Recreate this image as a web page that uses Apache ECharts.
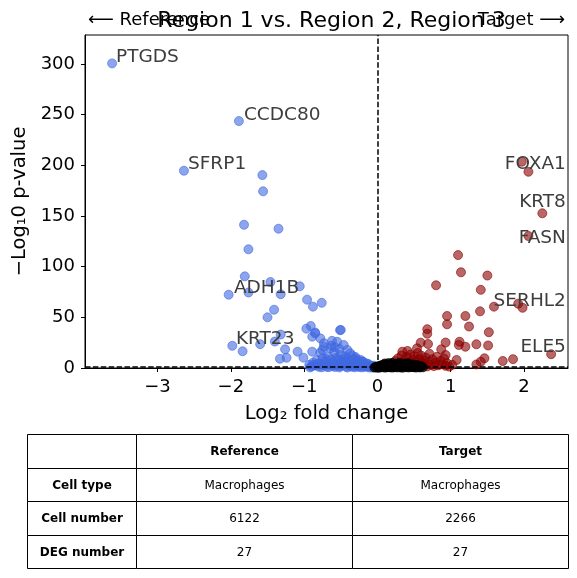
<!DOCTYPE html>
<html><head><meta charset="utf-8">
<script src="https://cdn.jsdelivr.net/npm/echarts@6/dist/echarts.min.js"></script>
<style>html,body{margin:0;padding:0;background:#fff}#c{width:577px;height:578px}</style>
</head><body><div id="c"></div>
<script>
const chartTitle = 'Region 1 vs. Region 2, Region 3';
const leftTag = '⟵ Reference';
const rightTag = 'Target ⟶';
const xTicks = [-3, -2, -1, 0, 1, 2];
const yTicks = [0, 50, 100, 150, 200, 250, 300];
const xName = 'Log₂ fold change';
const yName = '−Log₁0 p-value';
const pThreshold = 1.3;
const fcThreshold = 0;

// down-regulated (blue)
const downPoints = [
 [-3.62,300.5],[-1.89,243.6],[-2.64,194.6],[-1.57,190.3],[-1.56,174.3],[-1.82,141.3],[-1.35,137.4],
 [-1.76,117.1],[-1.81,90.4],[-1.46,84.8],[-1.06,80.6],[-2.03,72.3],[-1.76,74.5],[-1.32,72.8],
 [-0.96,67.4],[-0.88,60.5],[-0.76,64.3],[-1.41,57.5],[-1.50,50.0],[-1.98,21.9],[-1.84,16.5],
 [-1.60,23.5],[-1.40,26.1],[-1.32,33.0],[-1.26,18.4],[-1.33,9.1],[-1.24,10.1],[-1.09,16.1],
 [-1.01,10.2],[-0.91,41.4],[-0.97,38.8],[-0.85,35.0],[-0.51,37.3],[-0.50,37.6],[-0.89,30.9],
 [-0.78,29.3],[-0.73,24.4],[-0.62,26.8],[-0.55,25.9],[-0.46,22.7],[-0.75,17.8],[-0.64,19.4],
 [-0.41,17.8],[-0.37,14.5],[-0.89,16.1],[-0.78,15.1],[-0.73,21.0],[-0.85,34.2],[-0.59,15.8],
 [-0.50,12.8],[-0.30,10.8],[-0.23,7.9],[-0.63,22.0],[-0.58,20.5],[-0.52,19.0],[-0.44,11.5],
 [-0.40,9.0],[-0.34,12.0],[-0.28,8.5],[-0.20,6.5],[-0.15,4.5],
 [-0.93,3.1],[-0.90,1.5],[-0.88,5.2],[-0.85,2.4],[-0.83,7.8],[-0.80,1.2],[-0.78,4.6],[-0.75,9.5],
 [-0.74,2.8],[-0.71,6.3],[-0.69,1.1],[-0.67,11.2],[-0.65,3.9],[-0.63,8.4],[-0.61,2.2],[-0.60,5.7],
 [-0.58,1.0],[-0.56,10.3],[-0.55,3.5],[-0.53,7.1],[-0.51,1.8],[-0.50,4.9],[-0.48,2.7],[-0.46,9.2],
 [-0.45,6.0],[-0.43,1.4],[-0.42,3.8],[-0.40,7.6],[-0.38,2.5],[-0.37,5.3],[-0.35,1.2],[-0.33,4.2],
 [-0.32,8.9],[-0.30,2.0],[-0.28,6.1],[-0.27,3.3],[-0.25,1.0],[-0.23,4.7],[-0.22,2.6],[-0.20,5.8],
 [-0.18,1.6],[-0.17,3.4],[-0.15,2.2],[-0.13,4.1],[-0.12,1.3],[-0.10,2.8],[-0.08,1.8],[-0.06,1.1],
 [-0.05,2.3],[-0.03,0.8],
 [-0.92,0.6],[-0.87,2.9],[-0.82,4.1],[-0.76,0.7],[-0.72,3.6],[-0.66,0.9],[-0.62,4.4],[-0.57,2.6],
 [-0.52,0.6],[-0.47,3.9],[-0.41,0.5],[-0.36,3.0],[-0.31,0.7],[-0.26,2.1],[-0.21,0.6],[-0.16,1.2],
 [-0.11,0.5],[-0.07,0.4],[-0.70,8.8],[-0.54,8.9],[-0.48,6.8],[-0.35,6.9]
];

// up-regulated (red)
const upPoints = [
 [1.97,203.5],[2.06,193.6],[2.25,152.6],[2.06,130.2],[1.10,111.4],[1.14,94.4],[1.50,91.2],
 [0.80,81.6],[1.41,77.1],[1.92,63.4],[1.98,59.4],[1.59,60.5],[1.40,55.9],[0.95,51.3],[1.20,51.3],
 [0.95,43.1],[1.25,40.9],[1.52,35.3],[0.68,38.3],[0.68,33.8],[0.59,25.0],[0.69,23.7],[0.93,25.1],
 [1.12,25.9],[1.11,22.7],[1.20,21.0],[1.35,23.4],[1.51,22.2],[0.87,18.4],[0.93,12.8],[1.08,7.9],
 [1.46,9.6],[1.41,6.2],[1.35,3.5],[1.71,6.9],[1.85,8.7],[2.37,13.6],
 [0.18,2.1],[0.20,4.5],[0.22,1.2],[0.24,6.8],[0.26,3.0],[0.28,9.5],[0.30,1.8],[0.31,5.2],
 [0.33,12.4],[0.34,16.1],[0.35,2.6],[0.37,7.4],[0.38,3.9],[0.40,10.8],[0.41,16.8],[0.42,1.5],
 [0.44,5.9],[0.45,13.2],[0.46,2.9],[0.48,8.1],[0.49,4.3],[0.50,11.6],[0.52,1.9],[0.53,6.5],
 [0.54,19.4],[0.55,14.8],[0.56,3.4],[0.57,9.0],[0.59,5.1],[0.60,12.1],[0.61,2.2],[0.63,7.3],
 [0.64,4.0],[0.66,10.2],[0.68,1.6],[0.70,6.1],[0.71,14.0],[0.73,3.2],[0.75,8.6],[0.77,1.9],
 [0.79,5.4],[0.81,11.0],[0.83,2.7],[0.86,6.9],[0.88,3.7],[0.91,9.3],[0.93,2.1],[0.95,4.8],
 [0.98,1.4],[1.02,3.1]
];

// not significant (black)
const nsPoints = [
 [-0.04,0.5],[-0.02,1.2],[0.00,0.3],[0.02,2.0],[0.04,0.8],[0.06,1.5],[0.08,3.1],[0.10,0.4],
 [0.12,2.4],[0.14,1.0],[0.16,3.8],[0.18,0.6],[0.20,1.9],[0.22,2.9],[0.24,0.9],[0.26,4.2],
 [0.28,1.4],[0.30,2.6],[0.32,0.5],[0.34,3.3],[0.36,1.7],[0.38,4.6],[0.40,0.8],[0.42,2.2],
 [0.44,3.6],[0.46,1.1],[0.48,2.8],[0.50,0.7],[0.52,1.8],[0.54,3.0],[0.56,1.3],[0.58,0.6],
 [0.10,4.4],[0.20,4.9],[0.30,5.0],[0.42,4.5],
 [0.01,1.0],[0.03,0.4],[0.05,2.6],[0.07,0.9],[0.09,1.8],[0.11,3.4],[0.13,0.7],[0.15,2.0],
 [0.17,1.2],[0.19,3.1],[0.21,0.5],[0.23,1.6],[0.25,2.3],[0.27,0.6],[0.29,3.7],[0.31,1.1],
 [0.33,2.1],[0.35,0.4],[0.37,2.9],[0.39,1.3],[0.41,3.9],[0.43,0.6],[0.45,2.0],[0.47,0.9],
 [0.49,3.4],[0.51,1.5],[0.53,0.5],[0.55,2.3],[0.57,1.0],[0.60,1.8],[0.62,0.7],[0.15,4.8]
];

// gene name annotations: [name, x, y, align] (text anchor in data units)
const geneLabels = [
 ['PTGDS', -3.56, 306.4, 'left'],
 ['CCDC80', -1.815, 248.5, 'left'],
 ['SFRP1', -2.578, 200.2, 'left'],
 ['ADH1B', -1.951, 78.2, 'left'],
 ['KRT23', -1.924, 28.3, 'left'],
 ['FOXA1', 2.578, 200.2, 'right'],
 ['KRT8', 2.578, 162.7, 'right'],
 ['FASN', 2.578, 127.2, 'right'],
 ['SERHL2', 2.578, 65.1, 'right'],
 ['ELE5', 2.578, 19.7, 'right']
];

const tableColumns = ['', 'Reference', 'Target'];
const tableRowNames = ['Cell type', 'Cell number', 'DEG number'];
const referenceValues = ['Macrophages', '6122', '27'];
const targetValues = ['Macrophages', '2266', '27'];

const FONT = 'DejaVu Sans';
const chart = echarts.init(document.getElementById('c'), null, {renderer: 'canvas'});

// table graphics
const colX = [27.5, 136.5, 352.5, 568.5];
const rowY = [434.5, 468.5, 501.5, 535.5, 568.5];
const tableGraphics = [];
const cellText = (r, c) => {
  if (r === 0) return tableColumns[c];
  if (c === 0) return tableRowNames[r - 1];
  return c === 1 ? referenceValues[r - 1] : targetValues[r - 1];
};
for (let r = 0; r < 4; r++) {
  for (let c = 0; c < 3; c++) {
    tableGraphics.push({type: 'rect', silent: true,
      shape: {x: colX[c], y: rowY[r], width: colX[c+1]-colX[c], height: rowY[r+1]-rowY[r]},
      style: {fill: '#fff', stroke: '#000', lineWidth: 1}});
    const t = cellText(r, c);
    if (t) tableGraphics.push({type: 'text', silent: true,
      x: (colX[c]+colX[c+1])/2, y: (rowY[r]+rowY[r+1])/2 + 0.5,
      style: {text: t, fill: '#000', fontSize: 12, fontFamily: FONT,
        fontWeight: (r === 0 || c === 0) ? 'bold' : 'normal',
        align: 'center', verticalAlign: 'middle', textAlign: 'center', textVerticalAlign: 'middle'}});
  }
}

const minusFmt = v => (v < 0 ? '−' + Math.abs(v) : String(v));

const option = {
  animation: false,
  backgroundColor: '#fff',
  title: {text: chartTitle, left: 326.5, top: 5, textAlign: 'center',
    textStyle: {fontSize: 22, fontWeight: 'normal', color: '#000', fontFamily: FONT}},
  grid: {left: 85, right: 9, top: 35, bottom: 210, show: true, borderColor: '#000', borderWidth: 1, backgroundColor: 'transparent'},
  xAxis: {type: 'value', min: -3.99, max: 2.6,
    axisLine: {show: true, onZero: false, lineStyle: {color: '#000', width: 1}},
    axisTick: {show: true, length: 4, customValues: xTicks, lineStyle: {color: '#000', width: 1}},
    axisLabel: {customValues: xTicks, formatter: minusFmt, fontSize: 18, color: '#000', fontFamily: FONT, margin: 10},
    splitLine: {show: false},
    name: xName, nameLocation: 'middle', nameGap: 36,
    nameTextStyle: {fontSize: 19.5, color: '#000', fontFamily: FONT}},
  yAxis: {type: 'value', min: 0, max: 328.5,
    axisLine: {show: true, onZero: false, lineStyle: {color: '#000', width: 1}},
    axisTick: {show: true, length: 4, customValues: yTicks, lineStyle: {color: '#000', width: 1}},
    axisLabel: {customValues: yTicks, fontSize: 18, color: '#000', fontFamily: FONT, margin: 10},
    splitLine: {show: false},
    name: yName, nameLocation: 'middle', nameGap: 55, nameRotate: 90,
    nameTextStyle: {fontSize: 19.5, color: '#000', fontFamily: FONT}},
  graphic: [
    {type: 'text', silent: true, x: 88, y: 20,
      style: {text: leftTag, fontSize: 18, fontFamily: FONT, fill: '#000', align: 'left', verticalAlign: 'middle', textAlign: 'left', textVerticalAlign: 'middle'}},
    {type: 'text', silent: true, x: 565, y: 20,
      style: {text: rightTag, fontSize: 18, fontFamily: FONT, fill: '#000', align: 'right', verticalAlign: 'middle', textAlign: 'right', textVerticalAlign: 'middle'}}
  ].concat(tableGraphics),
  series: [
    {type: 'scatter', name: 'down', data: downPoints, symbolSize: 9, clip: true, silent: true,
      itemStyle: {color: '#4169E1', borderColor: '#4169E1', borderWidth: 1, opacity: 0.6}},
    {type: 'scatter', name: 'up', data: upPoints, symbolSize: 9, clip: true, silent: true,
      itemStyle: {color: '#8B0000', borderColor: '#8B0000', borderWidth: 1, opacity: 0.6}},
    {type: 'scatter', name: 'ns', data: nsPoints, symbolSize: 9, clip: true, silent: true,
      itemStyle: {color: '#000', borderColor: '#000', borderWidth: 1, opacity: 0.75}},
    {type: 'scatter', name: 'labels', z: 5, silent: true, clip: false, symbolSize: 1,
      itemStyle: {color: 'rgba(0,0,0,0)'},
      data: geneLabels.map(g => ({value: [g[1], g[2]], name: g[0], label: {align: g[3]}})),
      label: {show: true, position: [0, 0], formatter: '{b}', fontSize: 18.5, color: '#3d3d3d',
        textBorderWidth: 0, textBorderColor: 'transparent', opacity: 1,
        fontFamily: FONT, verticalAlign: 'middle'},
      markLine: {silent: true, symbol: ['none', 'none'], label: {show: false},
        lineStyle: {color: '#000', type: [5.5, 2.4], width: 1.5},
        data: [{xAxis: fcThreshold}, {yAxis: pThreshold}]}}
  ]
};
chart.setOption(option);
</script></body></html>
